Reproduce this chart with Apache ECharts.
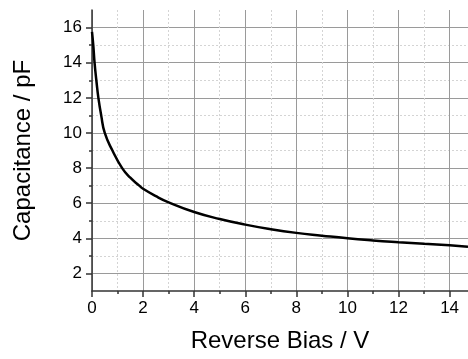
<!DOCTYPE html>
<html>
<head>
<meta charset="utf-8">
<script src="https://cdn.jsdelivr.net/npm/echarts@6/dist/echarts.min.js"></script>
<style>
  html, body { margin: 0; padding: 0; background: #fff; }
  #container { width: 468px; height: 359px; }
</style>
</head>
<body>
<div id="container"></div>
<script>
const bias = [0, 0.05, 0.1, 0.17, 0.25, 0.36, 0.5, 0.8, 1.18, 1.5, 1.85, 2, 2.5, 3, 4, 5, 6, 7, 8, 9, 10, 11, 12, 13, 14, 14.72]
const capacitance = [15.75, 15, 14, 13, 12, 11, 10, 9, 8, 7.45, 7, 6.82, 6.4, 6.05, 5.5, 5.1, 4.78, 4.52, 4.31, 4.15, 4.0, 3.88, 3.78, 3.69, 3.6, 3.52]

const xMajor = [0, 2, 4, 6, 8, 10, 12, 14]
const xMinor = [1, 3, 5, 7, 9, 11, 13]
const yMajor = [2, 4, 6, 8, 10, 12, 14, 16]
const yMinor = [3, 5, 7, 9, 11, 13, 15]

const font = 'Liberation Sans, Arial, sans-serif'
const dom = document.getElementById('container')
const myChart = echarts.init(dom)

const majorLine = { color: '#9a9a9a', width: 1 }
const minorLine = { color: '#d4d4d4', width: 1, type: [2, 2] }

const option = {
    animation: false,
    backgroundColor: '#fff',
    grid: { left: 92, right: 0, top: 10, bottom: 68 },
    xAxis: [
        {
            type: 'value',
            min: 0,
            max: 14.72,
            name: 'Reverse Bias / V',
            nameLocation: 'middle',
            nameGap: 38,
            nameTextStyle: { color: '#000', fontSize: 24, fontFamily: font },
            axisLine: { show: true, lineStyle: { color: '#333', width: 1.5 } },
            axisTick: { show: true, length: 6, customValues: xMajor, lineStyle: { color: '#333', width: 1.5 } },
            axisLabel: { customValues: xMajor, color: '#000', fontSize: 17, fontFamily: font, margin: 9 },
            splitLine: { show: true, lineStyle: majorLine }
        },
        {
            type: 'value',
            min: 0,
            max: 14.72,
            position: 'bottom',
            axisLine: { show: false },
            axisTick: { show: true, length: 3, customValues: xMinor, lineStyle: { color: '#333', width: 1.5 } },
            axisLabel: { show: false },
            splitLine: { show: true, lineStyle: minorLine }
        }
    ],
    yAxis: [
        {
            type: 'value',
            min: 1,
            max: 17,
            name: 'Capacitance / pF',
            nameLocation: 'middle',
            nameGap: 57,
            nameTextStyle: { color: '#000', fontSize: 24, fontFamily: font },
            axisLine: { show: true, lineStyle: { color: '#333', width: 1.5 } },
            axisTick: { show: true, length: 6, customValues: yMajor, lineStyle: { color: '#333', width: 1.5 } },
            axisLabel: { customValues: yMajor, color: '#000', fontSize: 17, fontFamily: font, margin: 10 },
            splitLine: { show: true, lineStyle: majorLine }
        },
        {
            type: 'value',
            min: 1,
            max: 17,
            position: 'left',
            axisLine: { show: false },
            axisTick: { show: true, length: 3, customValues: yMinor, lineStyle: { color: '#333', width: 1.5 } },
            axisLabel: { show: false },
            splitLine: { show: true, lineStyle: minorLine }
        }
    ],
    series: [
        {
            type: 'line',
            xAxisIndex: 0,
            yAxisIndex: 0,
            data: bias.map((v, i) => [v, capacitance[i]]),
            smooth: 0.5,
            showSymbol: false,
            lineStyle: { color: '#000', width: 2.5 },
            z: 10
        }
    ]
}

myChart.setOption(option)
</script>
</body>
</html>
